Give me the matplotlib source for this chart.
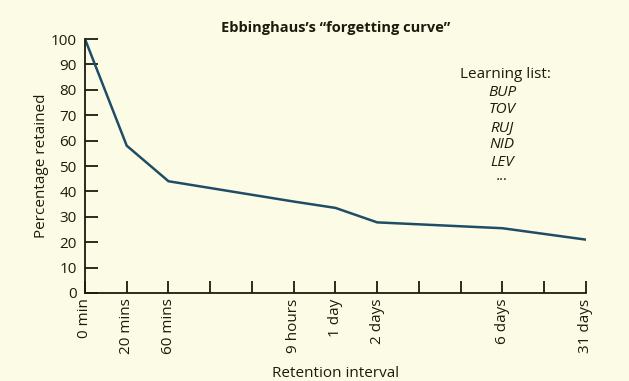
import numpy as np
import matplotlib.pyplot as plt

plt.rcParams['font.family'] = ['Open Sans', 'DejaVu Sans']

# tick slots along the retention axis (equally spaced, 13 ticks)
tick_labels = ["0 min", "20 mins", "60 mins", "", "", "9 hours", "1 day",
               "2 days", "", "", "6 days", "", "31 days"]

# measured points (slot index, percentage retained)
slots = [0, 1, 2, 5, 6, 7, 10, 12]
retained = [100, 58, 44, 36, 33.5, 27.8, 25.5, 21]

words = ["BUP", "TOV", "RUJ", "NID", "LEV", "\u00b7\u00b7\u00b7"]

BG = "#fcfce6"
INK = "#1c1c0c"
LINE = "#1f4d66"

fig = plt.figure(figsize=(6.29, 3.81), dpi=100, facecolor=BG)
ax = fig.add_axes([0.1351, 0.231, 0.7965, 0.6666], facecolor=BG)

ax.plot(slots, retained, color=LINE, linewidth=1.8, solid_joinstyle="miter")

ax.set_xlim(0, len(tick_labels) - 1)
ax.set_ylim(0, 100)
ax.set_xticks(range(len(tick_labels)))
ax.set_xticklabels(tick_labels, rotation=90, va="top", ha="center")
ax.set_yticks(range(0, 101, 10))

for s in ["top", "right"]:
    ax.spines[s].set_visible(False)
for s in ["left", "bottom"]:
    ax.spines[s].set_color(INK)
    ax.spines[s].set_linewidth(1.3)

ax.tick_params(direction="in", length=9, width=1.3, color=INK,
               labelsize=11, labelcolor=INK)
ax.tick_params(axis="x", pad=4)
ax.tick_params(axis="y", pad=6)

ax.set_title("Ebbinghaus\u2019s \u201cforgetting curve\u201d", fontsize=10.5,
             fontweight="bold", color=INK, pad=5)
ax.set_ylabel("Percentage retained", fontsize=11, color=INK, labelpad=1)
ax.set_xlabel("Retention interval", fontsize=11, color=INK, labelpad=8)

# learning list annotation
fig.text(505 / 629, 1 - 74 / 381, "Learning list:", fontsize=11, color=INK,
         ha="center", va="center")
for i, w in enumerate(words):
    fig.text(502 / 629, 1 - (92 + i * 17.6) / 381, w, fontsize=11,
             style="italic", color=INK, ha="center", va="center")

fig.savefig("out.png", dpi=100, facecolor=BG)
